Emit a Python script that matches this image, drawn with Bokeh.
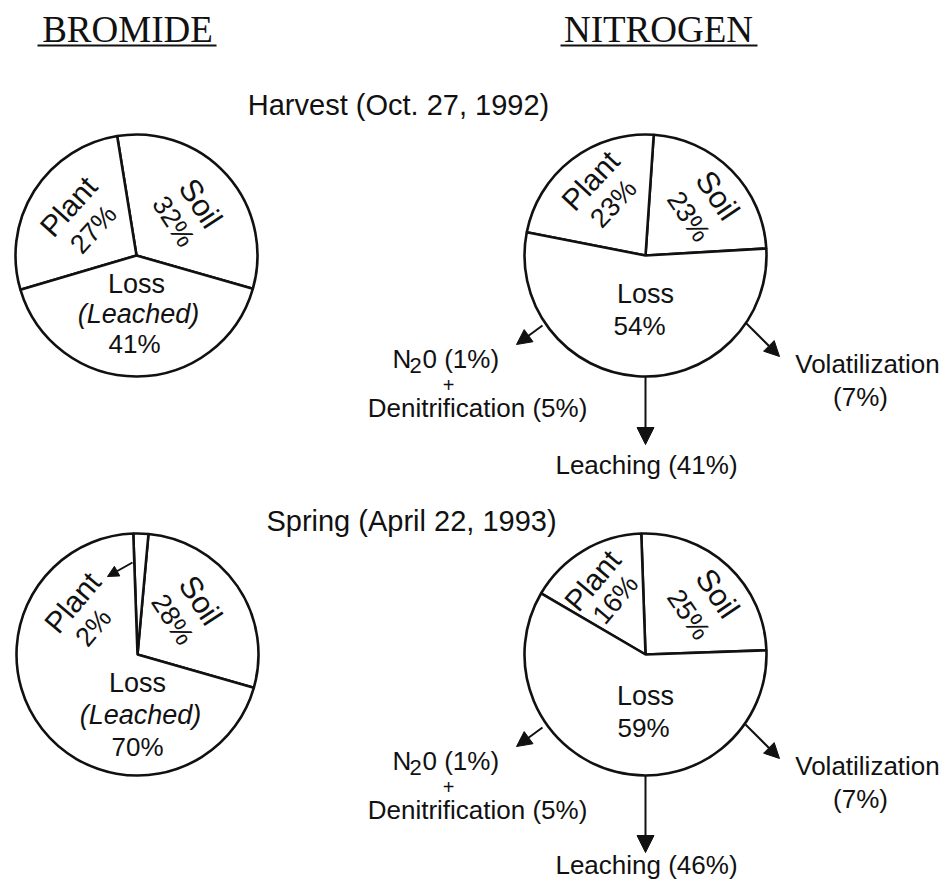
import math
from bokeh.plotting import figure
from bokeh.models import Range1d, Arrow, NormalHead, ColumnDataSource
from bokeh.core.properties import value
from bokeh.embed import file_html
from bokeh.resources import INLINE

# ---------------- data ----------------
panels = ["BROMIDE", "NITROGEN"]
dates = ["Harvest (Oct. 27, 1992)", "Spring (April 22, 1993)"]
categories = ["Soil", "Plant", "Loss"]
bromide_harvest = [32, 27, 41]
bromide_spring = [28, 2, 70]
nitrogen_harvest = [23, 23, 54]
nitrogen_spring = [25, 16, 59]
loss_paths = ["N2O", "Denitrification", "Leaching", "Volatilization"]
nitrogen_harvest_loss = [1, 5, 41, 7]
nitrogen_spring_loss = [1, 5, 46, 7]

# ---------------- figure ----------------
W, H = 945, 880
p = figure(width=W, height=H, x_range=Range1d(0, W), y_range=Range1d(-H, 0),
           output_backend="svg", toolbar_location=None, x_axis_type=None, y_axis_type=None,
           min_border=0)
p.outline_line_color = None
p.background_fill_color = "white"
p.border_fill_color = "white"
for g in p.grid:
    g.visible = False

INK = "#111111"
SANS = "Liberation Sans"


def txt(x, y, s, size=26, angle=0, style="normal", align="center", family=SANS):
    p.text(x=[x], y=[-y], text=[s], text_font=value(family), text_font_size=f"{size}px",
           angle=math.radians(angle), text_align=align, text_baseline="middle",
           text_color=INK, text_font_style=style)


def pie(cx, cy, r, vals, start_deg):
    starts, ends = [], []
    a = math.radians(start_deg)
    for v in vals:
        starts.append(a)
        a += 2 * math.pi * v / 100.0
        ends.append(a)
    src = ColumnDataSource(dict(x=[cx] * len(vals), y=[-cy] * len(vals), s=starts, e=ends))
    p.wedge(x="x", y="y", radius=r, start_angle="s", end_angle="e", source=src,
            fill_color="white", line_color=INK, line_width=2.6)


def arrow(x0, y0, x1, y1, size=15):
    p.add_layout(Arrow(end=NormalHead(size=size, fill_color=INK, line_color=INK, line_width=1),
                       x_start=x0, y_start=-y0, x_end=x1, y_end=-y1,
                       line_color=INK, line_width=2))


# ---------------- headers ----------------
txt(127, 29, panels[0], size=37, family="Liberation Serif")
txt(658, 29, panels[1], size=37, family="Liberation Serif")
p.segment(x0=[37, 560], y0=[-45, -45], x1=[216, 757], y1=[-45, -45], line_color=INK, line_width=2)

txt(398, 104, dates[0], size=29)
txt(411, 520, dates[1], size=29)

# ---------------- bromide pies ----------------
R = 121
pie(136, 255, R, bromide_harvest, -16)
txt(68, 206, categories[1], size=30, angle=48)
txt(93, 229, f"{bromide_harvest[1]}%", size=27, angle=48)
txt(200, 203, categories[0], size=31, angle=-57)
txt(173, 221, f"{bromide_harvest[0]}%", size=27, angle=-57)
txt(136, 283, categories[2], size=27)
txt(138, 313, "(Leached)", size=27, style="italic")
txt(134, 343, f"{bromide_harvest[2]}%", size=26)

pie(137, 654, R, bromide_spring, -16)
arrow(132, 562, 107, 576, size=11)
txt(72, 602, categories[1], size=30, angle=50)
txt(93, 627, f"{bromide_spring[1]}%", size=27, angle=50)
txt(200, 600, categories[0], size=31, angle=-57)
txt(172, 619, f"{bromide_spring[0]}%", size=27, angle=-57)
txt(137, 682, categories[2], size=27)
txt(140, 714, "(Leached)", size=27, style="italic")
txt(137, 746, f"{bromide_spring[2]}%", size=26)

# ---------------- nitrogen pies ----------------
pie(645, 255, R, nitrogen_harvest, 3.3)
txt(590, 180, categories[1], size=30, angle=47)
txt(613, 203, f"{nitrogen_harvest[1]}%", size=27, angle=47)
txt(717, 195, categories[0], size=31, angle=-56)
txt(688, 216, f"{nitrogen_harvest[0]}%", size=27, angle=-56)
txt(645, 293, categories[2], size=27)
txt(639, 325, f"{nitrogen_harvest[2]}%", size=26)

pie(645, 654, R, nitrogen_spring, 2)
txt(592, 580, categories[1], size=30, angle=50)
txt(615, 599, f"{nitrogen_spring[1]}%", size=27, angle=50)
txt(717, 593, categories[0], size=31, angle=-56)
txt(688, 614, f"{nitrogen_spring[0]}%", size=27, angle=-56)
txt(645, 695, categories[2], size=27)
txt(643, 727, f"{nitrogen_spring[2]}%", size=26)


def loss_labels(dy, vals, y_leach_start, y_leach_end, y_leach_txt):
    # arrows out of the loss wedge
    arrow(542, 325 + dy, 516, 344 + dy, size=15)
    arrow(745, 322 + dy, 779, 356 + dy, size=15)
    arrow(645, y_leach_start, 645, y_leach_end, size=17)
    # N2O (subscript 2) + Denitrification
    y0 = 358 + dy
    txt(392, y0, "N", size=26, align="left")
    txt(409, y0 + 7, "2", size=22, align="left")
    txt(422, y0, f"0 ({vals[0]}%)", size=26, align="left")
    txt(448, 384 + dy, "+", size=20)
    txt(477, 407 + dy, f"{loss_paths[1]} ({vals[1]}%)", size=26)
    # Leaching
    txt(646, y_leach_txt, f"{loss_paths[2]} ({vals[2]}%)", size=26)
    # Volatilization
    txt(867, 363 + dy, loss_paths[3], size=26)
    txt(860, 396 + dy, f"({vals[3]}%)", size=26)


loss_labels(0, nitrogen_harvest_loss, 376, 444, 464)
loss_labels(402, nitrogen_spring_loss, 775, 852, 864)

open("out.html", "w").write(file_html(p, INLINE))
